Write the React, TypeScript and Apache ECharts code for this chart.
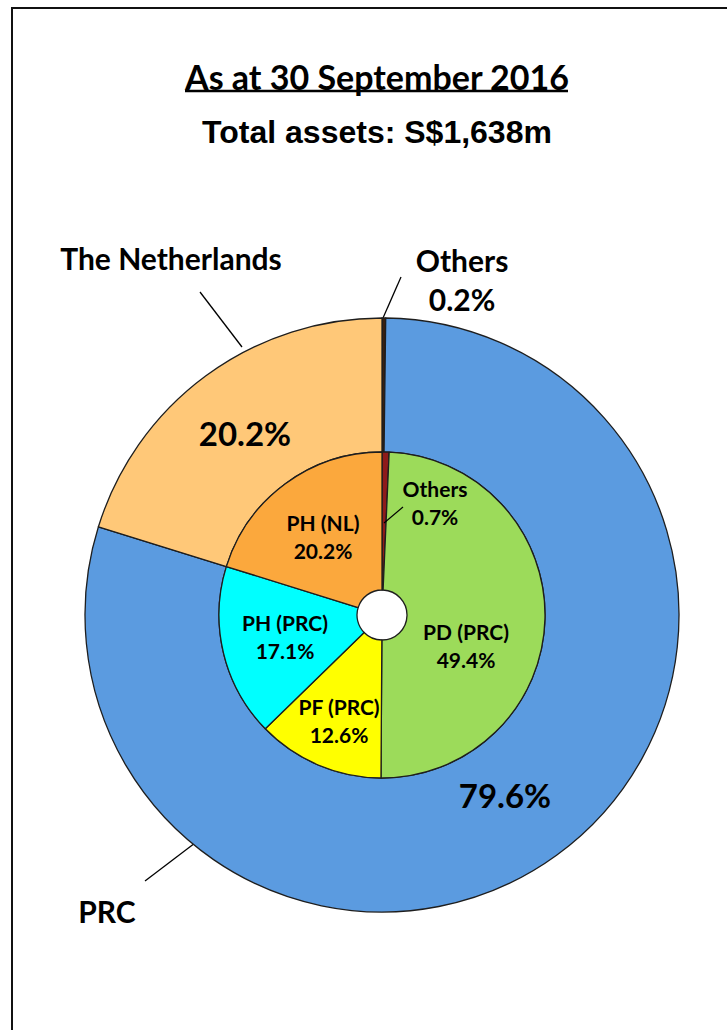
import React, { useEffect, useRef } from "react";
import * as echarts from "echarts";

// ---- data ----
const titleText = "As at 30 September 2016";
const subtitleText = "Total assets: S$1,638m";
const outerNames = ["Others", "PRC", "The Netherlands"];
const outerValues = [0.2, 79.6, 20.2];
const innerNames = ["Others", "PD (PRC)", "PF (PRC)", "PH (PRC)", "PH (NL)"];
const innerValues = [0.7, 49.4, 12.6, 17.1, 20.2];

// ---- styles / layout ----
const outerColors = ["#3a2010", "#5B9BE0", "#FFC878"];
const innerColors = ["#8E1B1B", "#9CDB5A", "#FFFF00", "#00FFFF", "#FBA83D"];
const CX = 382;
const CY = 615;
const R_OUT = 297;
const R_MID = 163;
const R_HOLE = 25;
const FONT = "Lato";

// outside name labels of outer ring: label anchor + leader line
const outerNamePos = [
  { x: 462, y: 279, line: [[383, 318], [401, 277]] },
  { x: 107, y: 911, line: [[195, 843], [145, 881]] },
  { x: 171, y: 258, line: [[242, 347], [200, 292]] },
];
// percent labels inside outer ring
const outerPctPos = [
  { x: 0, y: 0 },
  { x: 505, y: 795 },
  { x: 245, y: 433 },
];
// inner pie labels
const innerPos = [
  { x: 435, y: 502 },
  { x: 466, y: 645 },
  { x: 339, y: 720 },
  { x: 285, y: 636 },
  { x: 323, y: 536 },
];
const innerOthersLeader = { x1: 384, y1: 523, x2: 403, y2: 507 };

export default function App() {
  const ref = useRef<HTMLDivElement>(null);
  useEffect(() => {
    if (!ref.current) return;
    const chart = echarts.init(ref.current, null, { renderer: "svg" });
    const border = { borderColor: "#1e1e1e", borderWidth: 1.3 };
    const labelFont = {
      fontFamily: FONT,
      fontWeight: "bold",
      color: "#000",
    };
    chart.setOption({
      animation: false,
      backgroundColor: "#ffffff",
      graphic: [
        {
          type: "rect",
          shape: { x: 12, y: 8, width: 800, height: 1200 },
          style: { fill: "none", stroke: "#111", lineWidth: 2 },
          silent: true,
        },
        {
          type: "text",
          x: 377,
          y: 76,
          style: {
            text: titleText,
            fontFamily: FONT,
            fontWeight: "bold",
            fontSize: 34,
            fill: "#000",
            align: "center",
            verticalAlign: "middle",
          },
        },
        {
          type: "line",
          shape: { x1: 185, y1: 91, x2: 568, y2: 91 },
          style: { stroke: "#000", lineWidth: 2.5 },
        },
        {
          type: "text",
          x: 377,
          y: 132,
          style: {
            text: subtitleText,
            fontFamily: "Liberation Sans",
            fontWeight: "bold",
            fontSize: 32,
            fill: "#000",
            align: "center",
            verticalAlign: "middle",
          },
        },
        {
          type: "line",
          z: 100,
          shape: innerOthersLeader,
          style: { stroke: "#000", lineWidth: 1.2 },
          silent: true,
        },
      ],
      series: [
        {
          type: "pie",
          name: "outer",
          center: [CX, CY],
          radius: [R_MID, R_OUT],
          startAngle: 90,
          clockwise: true,
          avoidLabelOverlap: false,
          itemStyle: border,
          label: {
            show: true,
            position: "inside",
            formatter: "{c}%",
            fontSize: 33,
            ...labelFont,
          },
          labelLayout: (p: any) => {
            const q = outerPctPos[p.dataIndex];
            return { x: q.x, y: q.y, align: "center", verticalAlign: "middle" };
          },
          emphasis: { disabled: true },
          data: outerNames.map((n, i) => ({
            name: n,
            value: outerValues[i],
            itemStyle: { color: outerColors[i] },
            label: i === 0 ? { show: false } : undefined,
          })),
        },
        {
          type: "pie",
          name: "inner",
          center: [CX, CY],
          radius: [R_HOLE, R_MID],
          startAngle: 90,
          clockwise: true,
          avoidLabelOverlap: false,
          itemStyle: border,
          label: {
            show: true,
            position: "inside",
            formatter: "{b}\n{c}%",
            fontSize: 21,
            lineHeight: 28,
            ...labelFont,
          },
          labelLayout: (p: any) => {
            const q: any = innerPos[p.dataIndex];
            return { x: q.x, y: q.y, align: "center", verticalAlign: "middle" };
          },
          emphasis: { disabled: true },
          data: innerNames.map((n, i) => ({
            name: n,
            value: innerValues[i],
            itemStyle: { color: innerColors[i] },
          })),
        },
        {
          type: "pie",
          name: "outerNames",
          center: [CX, CY],
          radius: [R_MID, R_OUT],
          startAngle: 90,
          clockwise: true,
          silent: true,
          avoidLabelOverlap: false,
          itemStyle: { color: "rgba(0,0,0,0)", borderWidth: 0 },
          label: {
            show: true,
            position: "outside",
            alignTo: "none",
            formatter: (p: any) =>
              p.dataIndex === 0 ? `${p.name}\n${p.value}%` : p.name,
            fontSize: 30,
            lineHeight: 39,
            ...labelFont,
          },
          labelLine: {
            show: true,
            length: 15,
            length2: 0,
            lineStyle: { color: "#000", width: 1.3 },
          },
          labelLayout: (p: any) => {
            const q = outerNamePos[p.dataIndex];
            return {
              x: q.x,
              y: q.y,
              align: "center",
              verticalAlign: "middle",
              labelLinePoints: q.line,
            };
          },
          emphasis: { disabled: true },
          data: outerNames.map((n, i) => ({ name: n, value: outerValues[i] })),
        },
      ],
    });
    return () => chart.dispose();
  }, []);
  return (
    <div
      ref={ref}
      style={{ position: "fixed", left: 0, top: 0, width: 727, height: 1030 }}
    />
  );
}
